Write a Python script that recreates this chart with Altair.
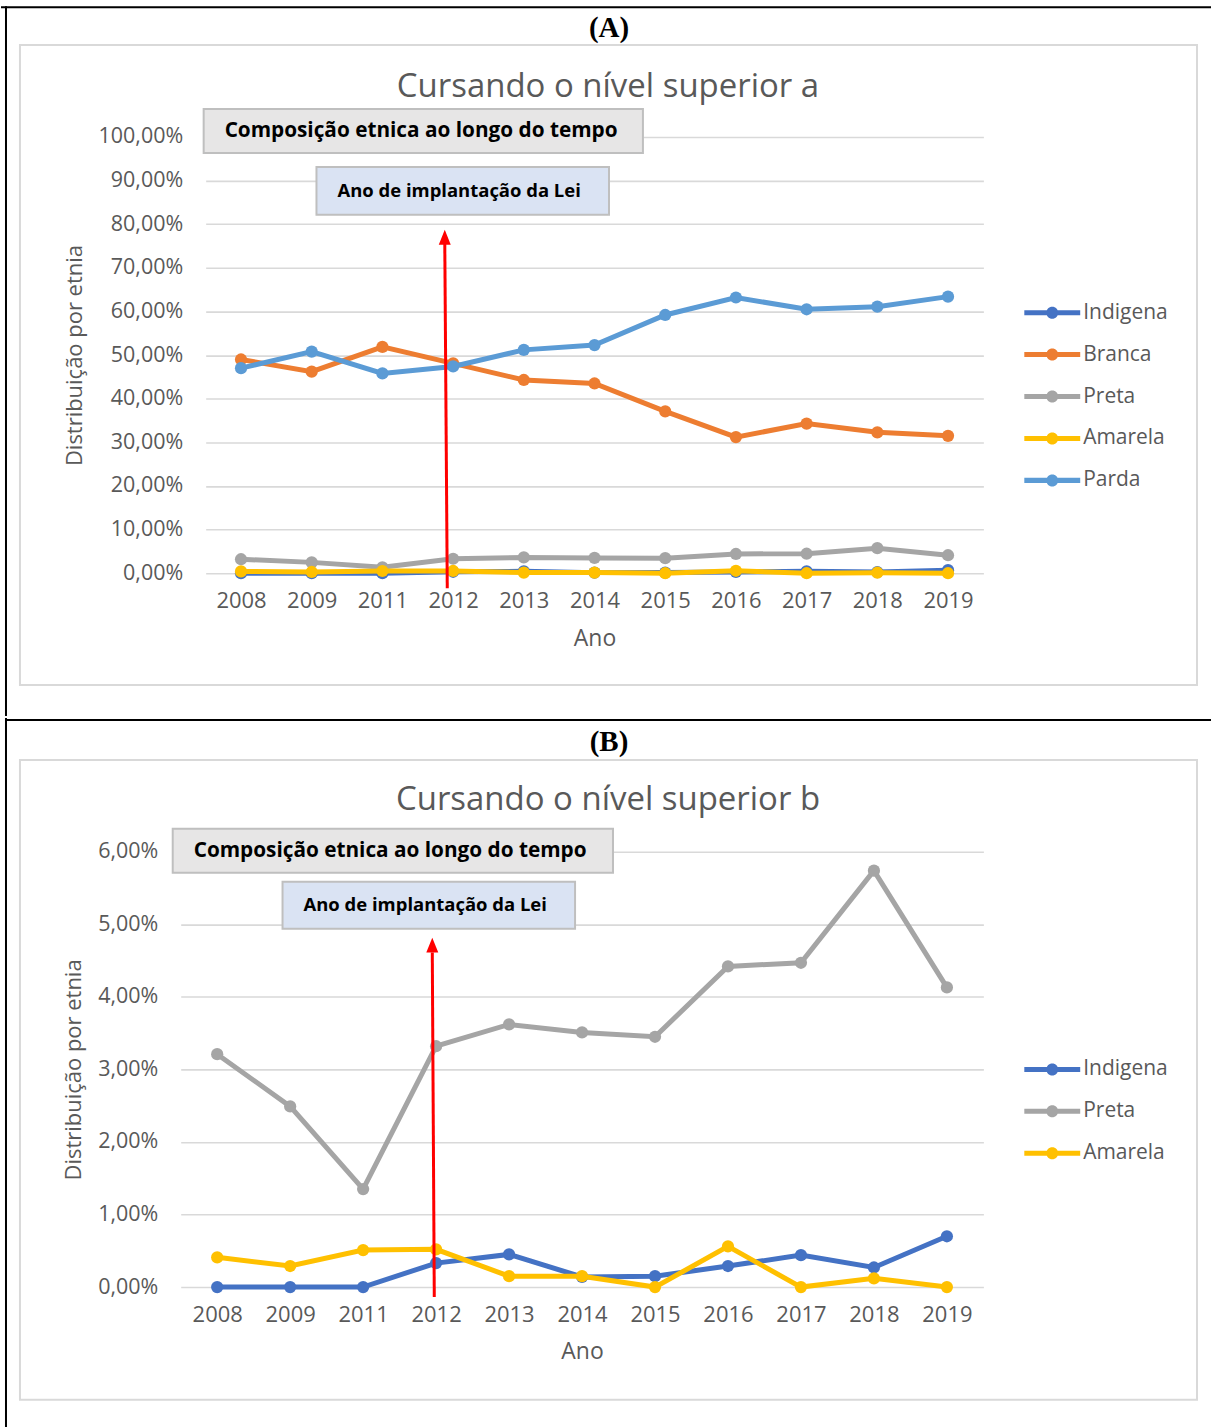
import altair as alt
import pandas as pd

# ---------------- data ----------------
years = ["2008", "2009", "2011", "2012", "2013", "2014", "2015", "2016", "2017", "2018", "2019"]

indigena = [0.00, 0.00, 0.00, 0.33, 0.45, 0.14, 0.15, 0.29, 0.44, 0.27, 0.70]
branca = [49.0, 46.2, 51.9, 48.1, 44.3, 43.5, 37.1, 31.2, 34.3, 32.3, 31.5]
preta = [3.21, 2.49, 1.35, 3.32, 3.62, 3.51, 3.45, 4.42, 4.47, 5.74, 4.13]
amarela = [0.41, 0.29, 0.51, 0.52, 0.15, 0.15, 0.00, 0.56, 0.00, 0.12, 0.00]
parda = [47.0, 50.8, 45.8, 47.4, 51.2, 52.3, 59.2, 63.2, 60.5, 61.1, 63.4]

series_a = ["Indigena", "Branca", "Preta", "Amarela", "Parda"]
values_a = [indigena, branca, preta, amarela, parda]
colors_a = ["#4472C4", "#ED7D31", "#A5A5A5", "#FFC000", "#5B9BD5"]

series_b = ["Indigena", "Preta", "Amarela"]
values_b = [indigena, preta, amarela]
colors_b = ["#4472C4", "#A5A5A5", "#FFC000"]

ticks_a = [0, 10, 20, 30, 40, 50, 60, 70, 80, 90, 100]
ticks_b = [0, 1, 2, 3, 4, 5, 6]

title_a = "Cursando o nível superior a"
title_b = "Cursando o nível superior b"
box1_text = "Composição etnica ao longo do tempo"
box2_text = "Ano de implantação da Lei"

FONT = "Open Sans"
GREY = "#595959"
LEGEND_PATH = ("M-2,-0.18L2,-0.18L2,0.18L-2,0.18Z "
               "M0.43,0A0.43,0.43 0 1,1 -0.43,0A0.43,0.43 0 1,1 0.43,0Z")
ARROW_PATH = "M0,-1L0.8,1L-0.8,1Z"

# Both panels share the plot-area origin at page x = 180.
ORIGIN_X = 180


def long_df(names, values):
    rows = []
    for n, vals in zip(names, values):
        for yr, v in zip(years, vals):
            rows.append({"Ano": yr, "Etnia": n, "Valor": v})
    return pd.DataFrame(rows)


def one():
    return alt.Chart(alt.Data(values=[{}]))


def rect(x, x2, y, y2, **kw):
    return one().mark_rect(**kw).encode(
        x=alt.value(x), x2=alt.value(x2), y=alt.value(y), y2=alt.value(y2))


def text(s, x, y, **kw):
    return one().mark_text(text=s, **kw).encode(x=alt.value(x), y=alt.value(y))


def panel(names, values, colors, ticks, ymax, W, H, x0, lx, ly, d):
    """x0 = left end of the x range (page x of plot left edge minus ORIGIN_X)."""
    df = long_df(names, values)
    xenc = alt.X("Ano:O", sort=years, scale=alt.Scale(domain=years, range=[x0, W]),
                 axis=alt.Axis(labelAngle=0, domain=False, ticks=False, grid=False,
                               labelFont=FONT, labelFontSize=22, labelColor=GREY,
                               labelPadding=17, title="Ano", titleFont=FONT,
                               titleFontSize=23, titleFontWeight="normal",
                               titleColor=GREY, titlePadding=16, titleX=(x0 + W) / 2))
    yenc = alt.Y("Valor:Q", scale=alt.Scale(domain=[0, ymax], nice=False, zero=True),
                 axis=alt.Axis(values=ticks, domain=False, ticks=False, grid=True,
                               gridColor="#d9d9d9", gridWidth=1.6, offset=-x0,
                               labelExpr="replace(format(datum.value, '.2f'), '.', ',') + '%'",
                               labelFont=FONT, labelFontSize=21.5, labelColor=GREY,
                               labelPadding=23, title="Distribuição por etnia",
                               titleFont=FONT, titleFontSize=22, titleFontWeight="normal",
                               titleColor=GREY, titlePadding=12))
    cscale = alt.Scale(domain=names, range=colors)
    legend = alt.Legend(orient="none", legendX=lx, legendY=ly, title=None,
                        labelFont=FONT, labelFontSize=21, labelColor=GREY,
                        symbolType=LEGEND_PATH, symbolSize=784, symbolStrokeWidth=0,
                        labelOffset=17, rowPadding=18, padding=0)
    layers = []
    # page-region box (invisible, defines the layout bounds)
    layers.append(rect(d["rx"], d["rx2"], d["ry"], d["ry2"], color="white", opacity=0))
    for n, c in zip(names, colors):
        sub = df[df.Etnia == n]
        base = alt.Chart(sub)
        layers.append(base.mark_line(strokeWidth=5, color=c).encode(x=xenc, y=yenc))
        layers.append(base.mark_point(filled=True, size=150, opacity=1).encode(
            x=xenc, y=yenc, color=alt.Color("Etnia:N", scale=cscale, legend=legend)))
    # figure table borders
    for (x, x2, y, y2) in d["black"]:
        layers.append(rect(x, x2, y, y2, color="black"))
    # chart area frame
    fx, fx2, fy, fy2 = d["frame"]
    layers.append(rect(fx, fx2, fy, fy2, fillOpacity=0, stroke="#d9d9d9", strokeWidth=2))
    # panel label
    layers.append(text(d["label"], d["lab_xy"][0], d["lab_xy"][1], font="Liberation Serif",
                       fontSize=29, fontWeight="bold", color="black", align="center",
                       baseline="middle"))
    # chart title
    layers.append(text(d["title"], d["tit_xy"][0], d["tit_xy"][1], font=FONT, fontSize=33,
                       color=GREY, align="center", baseline="middle"))
    # annotation boxes
    b1 = d["box1"]
    layers.append(rect(b1[0], b1[1], b1[2], b1[3], color="#E7E6E6", stroke="#BFBFBF",
                       strokeWidth=2))
    layers.append(text(box1_text, b1[0] + 21, (b1[2] + b1[3]) / 2, font=FONT, fontSize=20.8,
                       fontWeight="bold", color="black", align="left", baseline="middle"))
    b2 = d["box2"]
    layers.append(rect(b2[0], b2[1], b2[2], b2[3], color="#DAE3F3", stroke="#BFBFBF",
                       strokeWidth=2))
    layers.append(text(box2_text, b2[0] + 21, (b2[2] + b2[3]) / 2, font=FONT, fontSize=18.5,
                       fontWeight="bold", color="black", align="left", baseline="middle"))
    # red arrow
    ax0, ay0, ax1, ay1, tipy = d["arrow"]
    layers.append(one().mark_rule(color="#FF0000", strokeWidth=3).encode(
        x=alt.value(ax0), y=alt.value(ay0), x2=alt.value(ax1), y2=alt.value(ay1)))
    layers.append(one().mark_point(shape=ARROW_PATH, filled=True, size=225, color="#FF0000",
                                   opacity=1).encode(x=alt.value(ax1), y=alt.value(tipy)))
    return alt.layer(*layers).properties(width=W, height=H)


def rel(px):
    return px - ORIGIN_X


# Panel A: plot area page x 205..984, y 135..572
oyA = 135
dA = dict(
    rx=rel(0), rx2=rel(1212), ry=0 - oyA, ry2=715 - oyA,
    black=[(rel(0), rel(1212), 4 - oyA, 6 - oyA), (rel(4), rel(6), 4 - oyA, 715 - oyA)],
    frame=(rel(19), rel(1198), 43 - oyA, 684 - oyA),
    label="(A)", lab_xy=(rel(609), 26 - oyA),
    title=title_a, tit_xy=(rel(608), 85 - oyA),
    box1=(rel(203), rel(643), 107 - oyA, 151 - oyA),
    box2=(rel(316), rel(609), 165 - oyA, 213 - oyA),
    arrow=(rel(447), 587 - oyA, rel(444.5), 240 - oyA, 235.5 - oyA),
)
chart_a = panel(series_a, values_a, colors_a, ticks_a, 100, rel(984), 437, rel(205),
                rel(1039), 311 - oyA - 14, dA)

# Panel B: plot area page x 180..984, y 849..1285
oyB = 849
dB = dict(
    rx=rel(0), rx2=rel(1212), ry=715 - oyB, ry2=1427 - oyB,
    black=[(rel(4), rel(1212), 716 - oyB, 718 - oyB), (rel(4), rel(6), 715 - oyB, 1427 - oyB)],
    frame=(rel(19), rel(1198), 757 - oyB, 1398 - oyB),
    label="(B)", lab_xy=(rel(609), 739 - oyB),
    title=title_b, tit_xy=(rel(608), 797 - oyB),
    box1=(rel(172), rel(613), 826 - oyB, 870 - oyB),
    box2=(rel(282), rel(575), 879 - oyB, 926 - oyB),
    arrow=(rel(434), 1295 - oyB, rel(432), 950 - oyB, 942.5 - oyB),
)
chart_b = panel(series_b, values_b, colors_b, ticks_b, 6, rel(984), 436, 0,
                rel(1039), 1067 - oyB - 14, dB)

chart = alt.vconcat(chart_a, chart_b, spacing=0, bounds="full").resolve_scale(
    color="independent"
).resolve_legend(color="independent").properties(
    padding=0, background="white"
).configure_view(stroke="transparent")

chart.save("out.html", embed_options={"renderer": "svg", "actions": False})
